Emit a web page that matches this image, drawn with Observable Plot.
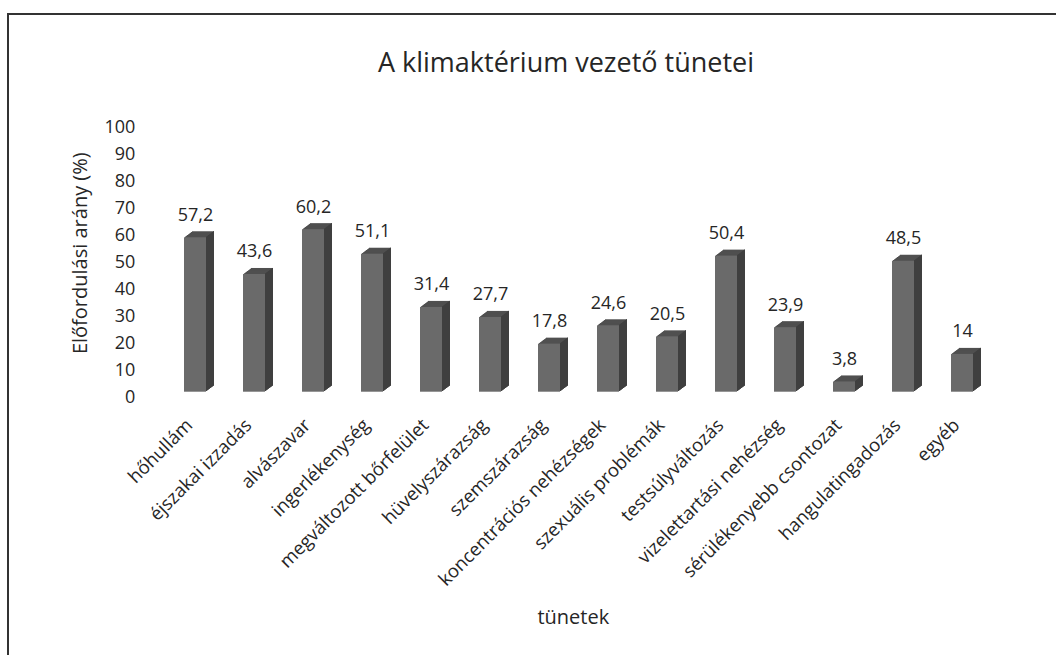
<!DOCTYPE html>
<html>
<head>
<meta charset="utf-8">
<script src="https://cdn.jsdelivr.net/npm/d3@7"></script>
<script src="https://cdn.jsdelivr.net/npm/@observablehq/plot@0.6"></script>
<style>
  body { margin: 0; background: #fff; font-family: "Open Sans", sans-serif; }
  #frame { position: absolute; left: 7px; top: 13px; width: 1100px; height: 800px; border: 2px solid #333; box-sizing: border-box; }
  #wrap { position: absolute; left: 0; top: 0; width: 1056px; }
  #title { height: 56px; padding-top: 44px; padding-left: 76px; line-height: 36px; text-align: center; font-size: 27px; color: #262626; white-space: nowrap; }
</style>
</head>
<body>
<div id="frame"></div>
<div id="wrap">
  <div id="title">A klimaktérium vezető tünetei</div>
  <div id="chart"></div>
</div>
<script>
const categories = ["hőhullám", "éjszakai izzadás", "alvászavar", "ingerlékenység", "megváltozott bőrfelület", "hüvelyszárazság", "szemszárazság", "koncentrációs nehézségek", "szexuális problémák", "testsúlyváltozás", "vizelettartási nehézség", "sérülékenyebb csontozat", "hangulatingadozás", "egyéb"];
const values = [57.2, 43.6, 60.2, 51.1, 31.4, 27.7, 17.8, 24.6, 20.5, 50.4, 23.9, 3.8, 48.5, 14];
const yTicks = [0, 10, 20, 30, 40, 50, 60, 70, 80, 90, 100];
const yTitle = "Előfordulási arány (%)";
const xTitle = "tünetek";

const data = categories.map((name, i) => ({name, value: values[i]}));
const fmt = v => String(v).replace(".", ",");

const FRONT = "#6a6a6a", TOP = "#505050", SIDE = "#3f3f3f", INK = "#262626";
const depth = 8;
const marks = [];
for (let k = depth; k >= 1; k--) {
  marks.push(Plot.barY(data, {x: "name", y: "value", fill: TOP, dx: k, dy: -0.75 * k}));
}
for (let k = depth; k >= 1; k--) {
  marks.push(Plot.barY(data, {x: "name", y: "value", fill: SIDE, insetLeft: 21, dx: k, dy: -0.75 * k}));
}
marks.push(Plot.barY(data, {x: "name", y: "value", fill: FRONT}));
marks.push(Plot.text(data, {x: "name", y: "value", text: d => fmt(d.value), dy: -17, lineAnchor: "bottom", fontSize: 18, fill: INK}));
marks.push(Plot.axisY({ticks: yTicks, tickSize: 0, tickPadding: 28, dy: 5, fontSize: 18, label: null, fill: INK}));
marks.push(Plot.axisX({tickRotate: -45, tickSize: 0, tickPadding: 0, dx: -6, dy: 30, fontSize: 18.5, label: null, textAnchor: "end", lineAnchor: "middle", fill: INK}));
marks.push(Plot.text([yTitle], {frameAnchor: "left", rotate: -90, dx: -83, dy: -4, fontSize: 20, textAnchor: "middle", lineAnchor: "middle", fill: INK}));
marks.push(Plot.text([xTitle], {frameAnchor: "bottom", dy: 232, dx: -6, fontSize: 20, lineAnchor: "bottom", fill: INK}));

const chart = Plot.plot({
  width: 1056,
  height: 555,
  marginLeft: 162.8,
  marginRight: 61.2,
  marginTop: 21.7,
  marginBottom: 263.3,
  style: {fontFamily: "Open Sans", fontSize: "18px", color: INK, background: "transparent", overflow: "visible"},
  x: {domain: categories, paddingInner: 0.63, paddingOuter: 0.315, axis: null},
  y: {domain: [0, 100], axis: null},
  marks
});
document.getElementById("chart").appendChild(chart);
</script>
</body>
</html>
